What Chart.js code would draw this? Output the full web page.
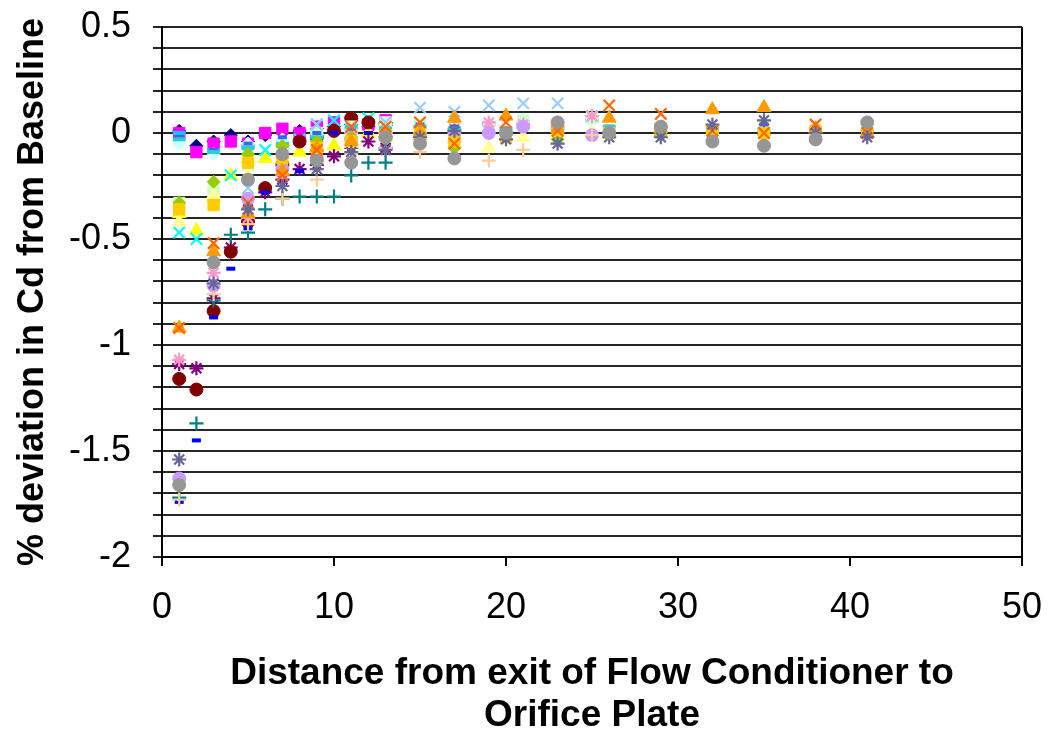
<!DOCTYPE html>
<html>
<head>
<meta charset="utf-8">
<style>
  body { margin: 0; background: #fff; }
  canvas { display: block; }
</style>
</head>
<body>
<canvas id="chart" width="1048" height="737"></canvas>
<script src="https://cdn.jsdelivr.net/npm/chart.js"></script>
<script>
  // distances (x) for each group of runs
  const nearX = [1, 2, 3, 4, 5, 6, 7, 8, 9, 10, 11, 12, 13];
  const groupAX = [1, 3, 5, 7, 9, 11, 13, 15, 17, 20, 23, 26, 29, 32, 35, 38, 41];
  const groupBX = [1, 3, 5, 7, 9, 11, 13, 15, 17, 19, 21, 23, 25];

  // % deviation in Cd
  const s1 = [0.01, -0.06, -0.04, -0.01, -0.04, -0.01, 0.0, 0.01, 0.02, 0.03, 0.04, 0.03, 0.05];
  const s2 = [0.0, -0.09, -0.05, -0.04, -0.05, 0.0, 0.02, 0.0, 0.03, 0.05, 0.05, 0.04, 0.06];
  const s3 = [-0.38, -0.46, -0.3, -0.2, -0.12, -0.12, -0.1, -0.09, -0.07, -0.06, -0.03, 0.0, 0.02];
  const s4 = [-0.47, -0.5, -0.3, -0.2, -0.1, -0.08, -0.05, -0.03, 0.04, 0.06, 0.05, 0.07, 0.04];
  const s5 = [-1.09, -1.11, -0.78, -0.54, -0.4, -0.28, -0.22, -0.17, -0.15, -0.11, -0.07, -0.04, -0.07];
  const s6 = [-1.16, -1.21, -0.84, -0.56, -0.42, -0.26, -0.15, -0.04, -0.02, 0.01, 0.07, 0.05, 0.04];
  const s7 = [-1.72, -1.37, -0.79, -0.48, -0.47, -0.36, -0.31, -0.3, -0.3, -0.3, -0.2, -0.14, -0.14];
  const s8 = [-1.74, -1.45, -0.87, -0.64, -0.45, -0.28, -0.2, -0.18, -0.08, 0.0, 0.01, 0.0, 0.02];

  const s9 = [0.0, -0.08, -0.06, -0.05, -0.01, 0.02, 0.04, 0.03, 0.02, 0.04, 0.05, 0.03, 0.06];
  const s10 = [-0.05, -0.1, -0.05, -0.03, 0.0, 0.02, 0.04, 0.03, 0.02, 0.05, 0.05, 0.03, 0.06];
  const s11 = [-0.33, -0.27, -0.15, -0.08, 0.0, 0.03, 0.05, 0.04, 0.03, 0.03, 0.06, 0.04, 0.07];
  const s12 = [-0.42, -0.29, -0.2, -0.15, -0.11, -0.05, -0.02, -0.04, -0.03, -0.07, -0.02, 0.0, 0.0];
  const s13 = [null, null, -0.26, -0.14, 0.04, 0.02, 0.05, 0.12, 0.1, 0.13, 0.14, 0.14, 0.08];
  const s14 = [-1.07, -0.66, -0.4, -0.2, -0.08, 0.0, 0.0, 0.0, 0.02, 0.05, 0.04, 0.03, 0.08];
  const s15 = [-1.63, -0.72, -0.31, -0.17, -0.12, -0.03, -0.02, -0.01, 0.0, 0.0, 0.03, 0.02, -0.01];
  const s16 = [-1.73, -0.76, -0.43, -0.31, -0.22, -0.1, -0.07, -0.09, -0.04, -0.13, -0.08, -0.05, -0.01];

  const s17 = [-0.02, -0.08, -0.05, -0.02, 0.0, 0.02, 0.02, 0.04, 0.03, 0.02, 0.02, 0.03, 0.01, 0.02, 0.04, 0.03, 0.02];
  const s18 = [-0.03, -0.09, -0.07, -0.06, -0.02, 0.03, 0.02, 0.03, 0.02, 0.02, 0.01, 0.03, 0.02, 0.02, 0.01, 0.02, 0.01];
  const s19 = [-0.33, -0.23, -0.1, -0.06, -0.04, -0.02, -0.03, -0.03, -0.07, -0.01, -0.03, -0.01, -0.01, 0.0, -0.01, 0.0, -0.01];
  const s20 = [-0.36, -0.34, -0.14, -0.12, -0.07, -0.04, -0.01, 0.0, -0.04, -0.02, 0.01, 0.0, 0.02, 0.01, 0.0, 0.01, 0.0];
  const s21 = [-0.92, -0.56, -0.38, -0.18, -0.07, -0.04, 0.0, 0.0, 0.07, 0.08, 0.02, 0.07, 0.02, 0.11, 0.12, 0.02, 0.0];
  const s22 = [-0.92, -0.52, -0.33, -0.2, -0.08, 0.03, 0.03, 0.05, -0.05, 0.05, 0.01, 0.13, 0.09, 0.01, 0.0, 0.04, 0.0];
  const s23 = [-1.54, -0.71, -0.36, -0.25, -0.17, -0.09, -0.08, -0.02, 0.01, -0.03, -0.05, -0.02, -0.02, 0.04, 0.06, 0.0, -0.02];
  const s24 = [-1.66, -0.61, -0.22, -0.1, -0.13, -0.14, -0.02, -0.05, -0.12, 0.0, 0.05, 0.0, 0.03, -0.04, -0.06, -0.03, 0.05];

  // excel-ish default series: [xs, ys, colour, marker, radius]
  const series = [
    [nearX, s1, '#000080', 'rectRot', 6.5],
    [nearX, s2, '#FF00FF', 'rect', 8],
    [nearX, s3, '#FFFF00', 'triangle', 8],
    [nearX, s4, '#00FFFF', 'crossRot', 8],
    [nearX, s5, '#800080', 'star', 7],
    [nearX, s6, '#800000', 'circle', 6.5],
    [nearX, s7, '#008080', 'cross', 7],
    [nearX, s8, '#0000FF', 'line', 4.5],
    [groupBX, s9, '#00CCFF', 'line', 6.5],
    [groupBX, s10, '#CCFFFF', 'rectRot', 6.5],
    [groupBX, s11, '#CCFFCC', 'rect', 8],
    [groupBX, s12, '#FFFF99', 'triangle', 8],
    [groupBX, s13, '#99CCFF', 'crossRot', 8],
    [groupBX, s14, '#FF99CC', 'star', 7],
    [groupBX, s15, '#CC99FF', 'circle', 6.5],
    [groupBX, s16, '#FFCC99', 'cross', 7],
    [groupAX, s17, '#3366FF', 'line', 4.5],
    [groupAX, s18, '#33CCCC', 'line', 6.5],
    [groupAX, s19, '#99CC00', 'rectRot', 6.5],
    [groupAX, s20, '#FFCC00', 'rect', 8],
    [groupAX, s21, '#FF9900', 'triangle', 8],
    [groupAX, s22, '#FF6600', 'crossRot', 8],
    [groupAX, s23, '#666699', 'star', 7],
    [groupAX, s24, '#969696', 'circle', 6.5]
  ];

  const datasets = series.map((s, i) => {
    const [xs, ys, color, shape, r] = s;
    const pts = [];
    xs.forEach((x, j) => { if (ys[j] !== null) pts.push({x: x, y: ys[j]}); });
    const stroked = ['crossRot', 'cross', 'star', 'line'].includes(shape);
    return {
      label: 'Series ' + (i + 1),
      data: pts,
      order: series.length - i,
      pointStyle: shape,
      pointRadius: r,
      pointHoverRadius: r,
      backgroundColor: color,
      borderColor: color,
      pointBorderWidth: shape === 'line' ? 4 : (stroked ? 2.2 : 1),
      showLine: false
    };
  });

  const axisColor = '#000';

  new Chart(document.getElementById('chart'), {
    type: 'scatter',
    data: { datasets: datasets },
    options: {
      responsive: false,
      animation: false,
      devicePixelRatio: 1,
      layout: { padding: { top: 27, right: 26, left: 0, bottom: 0 } },
      plugins: { legend: { display: false }, tooltip: { enabled: false } },
      scales: {
        x: {
          type: 'linear',
          min: 0,
          max: 50,
          afterFit: (scale) => {
            scale.height = 180;
            scale.paddingLeft = 0;
            scale.paddingRight = 0;
          },
          border: { display: true, color: axisColor, width: 2 },
          grid: {
            color: (ctx) => (ctx.tick && ctx.tick.value === 50) ? axisColor : 'rgba(0,0,0,0)',
            tickColor: axisColor,
            lineWidth: 2,
            tickLength: 9
          },
          ticks: {
            stepSize: 10,
            color: '#000',
            padding: 20,
            font: { family: "'Liberation Sans', Arial", size: 36 }
          },
          title: {
            display: true,
            text: ['Distance from exit of Flow Conditioner to', 'Orifice Plate'],
            color: '#000',
            padding: { top: 0, bottom: 0 },
            font: { family: "'Liberation Sans', Arial", size: 37, weight: 'bold', lineHeight: 1.14 }
          }
        },
        y: {
          min: -2,
          max: 0.5,
          afterFit: (scale) => {
            scale.width = 162;
            scale.paddingTop = 0;
            scale.paddingBottom = 0;
          },
          border: { display: true, color: axisColor, width: 2 },
          grid: {
            color: '#262626',
            lineWidth: 2,
            tickLength: 9
          },
          ticks: {
            stepSize: 0.1,
            autoSkip: false,
            color: '#000',
            padding: 22,
            font: { family: "'Liberation Sans', Arial", size: 36 },
            callback: (v) => {
              const h = v * 2;
              if (Math.abs(h - Math.round(h)) > 1e-6) return '';
              return String(Math.round(v * 10) / 10);
            }
          },
          title: {
            display: true,
            text: '% deviation in Cd from Baseline',
            color: '#000',
            padding: { top: 11, bottom: 0 },
            font: { family: "'Liberation Sans', Arial", size: 36, weight: 'bold' }
          }
        }
      }
    }
  });
</script>
</body>
</html>
